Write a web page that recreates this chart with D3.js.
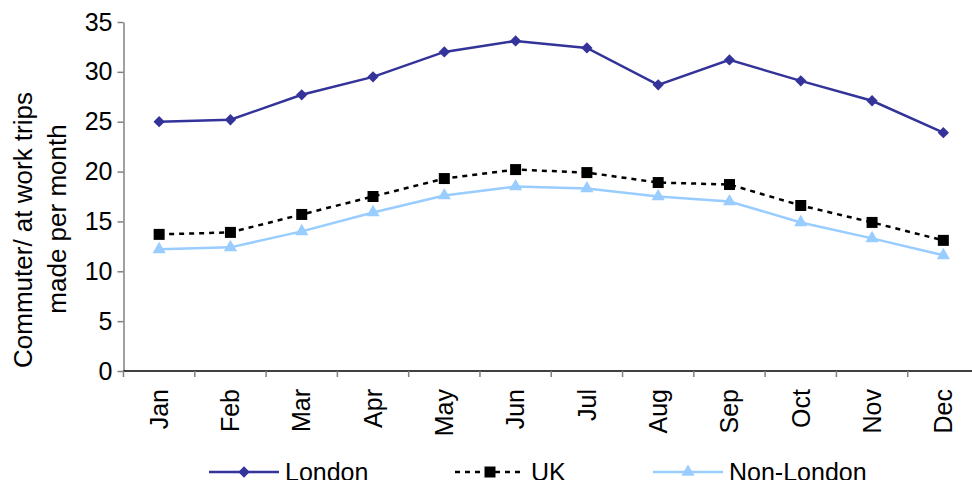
<!DOCTYPE html>
<html>
<head>
<meta charset="utf-8">
<script src="https://cdn.jsdelivr.net/npm/d3@7"></script>
<style>
  html, body { margin: 0; padding: 0; background: #fff; }
  svg { display: block; font-family: "Liberation Sans", Arial, sans-serif; }
</style>
</head>
<body>
<div id="chart"></div>
<script>
// data
const months = ["Jan", "Feb", "Mar", "Apr", "May", "Jun", "Jul", "Aug", "Sep", "Oct", "Nov", "Dec"];
const london = [25.0, 25.2, 27.7, 29.5, 32.0, 33.1, 32.4, 28.7, 31.2, 29.1, 27.1, 23.9];
const uk = [13.7, 13.9, 15.7, 17.5, 19.3, 20.2, 19.9, 18.9, 18.7, 16.6, 14.9, 13.1];
const nonLondon = [12.2, 12.4, 14.0, 15.9, 17.6, 18.5, 18.3, 17.5, 17.0, 14.9, 13.3, 11.6];
const yTicks = [0, 5, 10, 15, 20, 25, 30, 35];

const width = 972, height = 480;

const svg = d3.select("#chart").append("svg")
    .attr("width", width)
    .attr("height", height);

// scales
const x = d3.scaleBand().domain(months).range([123.5, 979]);
const y = d3.scaleLinear().domain([0, 35]).range([371, 22]);
const cx = m => x(m) + x.bandwidth() / 2;

// y axis
const yAxis = svg.append("g")
    .attr("transform", "translate(123.5,0)")
    .call(d3.axisLeft(y).tickValues(yTicks).tickSize(6).tickPadding(5).tickSizeOuter(0));
yAxis.select(".domain").attr("stroke", "#808080").attr("stroke-width", 1.5);
yAxis.selectAll(".tick line").attr("stroke", "#808080").attr("stroke-width", 1.5);
yAxis.selectAll(".tick text")
    .attr("fill", "#000")
    .style("font-size", "25px")
    .style("font-family", "Liberation Sans, Arial, sans-serif");

// x axis
const xAxis = svg.append("g")
    .attr("transform", "translate(0,371)");
xAxis.append("line")
    .attr("x1", 123.5).attr("x2", 979)
    .attr("stroke", "#000").attr("stroke-width", 1.5);
xAxis.selectAll(".xt")
    .data(months)
    .enter()
    .append("line")
    .attr("class", "xt")
    .attr("x1", d => x(d)).attr("x2", d => x(d))
    .attr("y1", 0).attr("y2", 6)
    .attr("stroke", "#808080").attr("stroke-width", 1.5);
xAxis.selectAll(".xl")
    .data(months)
    .enter()
    .append("text")
    .attr("class", "xl")
    .attr("transform", d => `translate(${cx(d)},18) rotate(-90)`)
    .attr("text-anchor", "end")
    .attr("dy", "0.35em")
    .style("font-size", "25px")
    .text(d => d);

// axis title
const title = svg.append("text")
    .attr("transform", "rotate(-90)")
    .attr("text-anchor", "middle")
    .style("font-size", "26px");
title.append("tspan").attr("x", -230).attr("y", 32).text("Commuter/ at work trips");
title.append("tspan").attr("x", -219).attr("y", 66).text("made per month");

// series
const series = [
    { name: "London", values: london, color: "#333399", dash: null, marker: d3.symbolSquare, size: 64, rot: 45 },
    { name: "UK", values: uk, color: "#000000", dash: "5,5", marker: d3.symbolSquare, size: 121, rot: 0 },
    { name: "Non-London", values: nonLondon, color: "#99CCFF", dash: null, marker: d3.symbolTriangle, size: 75, rot: 0 }
];

const line = d3.line()
    .x((d, i) => cx(months[i]))
    .y(d => y(d));

series.forEach(s => {
    svg.append("path")
        .datum(s.values)
        .attr("fill", "none")
        .attr("stroke", s.color)
        .attr("stroke-width", 2.5)
        .attr("stroke-dasharray", s.dash)
        .attr("d", line);

    svg.selectAll(null)
        .data(s.values)
        .enter()
        .append("path")
        .attr("d", d3.symbol().type(s.marker).size(s.size))
        .attr("transform", (d, i) => `translate(${cx(months[i])},${y(d)}) rotate(${s.rot})`)
        .attr("fill", s.color);
});

// legend
const legendX = [209, 455, 653];
series.forEach((s, i) => {
    const g = svg.append("g")
        .attr("transform", `translate(${legendX[i]},472)`);
    g.append("line")
        .attr("x1", 0).attr("x2", 70)
        .attr("stroke", s.color)
        .attr("stroke-width", 2.5)
        .attr("stroke-dasharray", s.dash);
    g.append("path")
        .attr("d", d3.symbol().type(s.marker).size(s.size))
        .attr("transform", `translate(35,0) rotate(${s.rot})`)
        .attr("fill", s.color);
    g.append("text")
        .attr("x", 76)
        .attr("dy", "0.35em")
        .style("font-size", "25px")
        .text(s.name);
});
</script>
</body>
</html>
